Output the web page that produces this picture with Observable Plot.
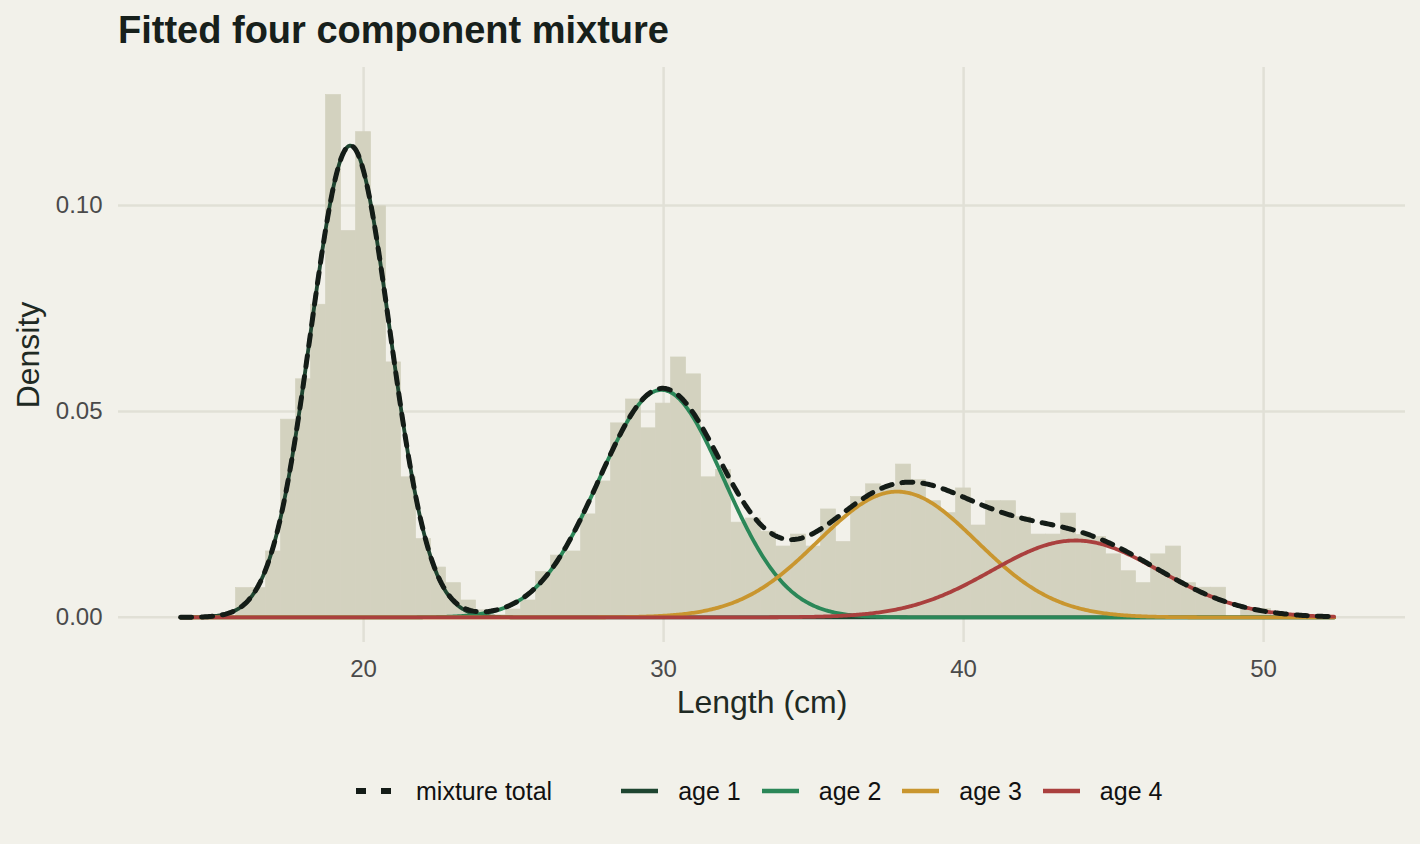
<!DOCTYPE html>
<html><head><meta charset="utf-8">
<script src="https://cdn.jsdelivr.net/npm/d3@7"></script>
<script src="https://cdn.jsdelivr.net/npm/@observablehq/plot@0.6"></script>
<style>
html,body{margin:0;padding:0;background:#f2f1ea;}
body{width:1420px;height:844px;position:relative;overflow:hidden;font-family:"Liberation Sans",Arial,sans-serif;}
#title{position:absolute;left:118px;top:11px;font-size:38px;font-weight:bold;line-height:38px;color:#17201b;white-space:nowrap;}
#chart{position:absolute;left:0;top:56px;}
#legend{position:absolute;left:356px;top:771px;height:40px;display:flex;align-items:center;font-size:25px;color:#111;white-space:nowrap;}
.item{display:flex;align-items:center;}
.item svg{display:block;}
</style></head><body>
<div id="title">Fitted four component mixture</div>
<div id="chart"></div>
<div id="legend"></div>
<script>
// Histogram: bin midpoints (cm) and density
const binMids = [16.0,16.5,17.0,17.5,18.0,18.5,19.0,19.5,20.0,20.5,21.0,21.5,22.0,22.5,23.0,23.5,24.0,24.5,25.0,25.5,26.0,26.5,27.0,27.5,28.0,28.5,29.0,29.5,30.0,30.5,31.0,31.5,32.0,32.5,33.0,33.5,34.0,34.5,35.0,35.5,36.0,36.5,37.0,37.5,38.0,38.5,39.0,39.5,40.0,40.5,41.0,41.5,42.0,42.5,43.0,43.5,44.0,44.5,45.0,45.5,46.0,46.5,47.0,47.5,48.0,48.5,49.0,49.5,50.0];
const binDensity = [0.0071,0.0071,0.016,0.048,0.0578,0.0759,0.1268,0.0938,0.1178,0.0998,0.0619,0.034,0.019,0.0121,0.0083,0.0041,0.0017,0.0005,0.0019,0.0041,0.011,0.015,0.016,0.025,0.033,0.0471,0.0529,0.0459,0.0519,0.0631,0.059,0.034,0.0358,0.023,0.024,0.0208,0.0172,0.0201,0.0172,0.0262,0.0183,0.0292,0.0323,0.0315,0.0371,0.0333,0.0282,0.0253,0.0313,0.0223,0.0282,0.0282,0.0243,0.0201,0.0201,0.0252,0.020,0.0195,0.0153,0.0112,0.0083,0.0153,0.0172,0.0083,0.0072,0.0072,0.0,0.002,0.002];
const binWidth = 0.5;

// Fitted mixture components
const ageLabels = ["age 1","age 2","age 3","age 4"];
const ageMeans = [19.56, 29.93, 37.79, 43.73];
const ageSds = [1.32, 2.08, 2.64, 2.8];
const ageWeights = [0.379, 0.288, 0.202, 0.131];
const ageColors = ["#1e4530", "#2b8758", "#c9962f", "#aa403e"];
const totalLabel = "mixture total";
const totalColor = "#141c17";
const xRange = [13.9, 52.35];

const xTicks = [20, 30, 40, 50];
const yTicks = [0, 0.05, 0.10];

const bins = binMids.map((m, i) => ({mid: m, density: binDensity[i]}));
const grid = d3.range(xRange[0], xRange[1] + 1e-9, 0.05);
const normal = (x, m, s) => Math.exp(-0.5 * ((x - m) / s) ** 2) / (s * Math.sqrt(2 * Math.PI));
const compRows = [];
ageLabels.forEach((lab, i) => grid.forEach(x => compRows.push({x, y: ageWeights[i] * normal(x, ageMeans[i], ageSds[i]), age: lab})));
const totalRows = grid.map(x => ({x, y: d3.sum(ageLabels, (_, i) => ageWeights[i] * normal(x, ageMeans[i], ageSds[i]))}));

const plot = Plot.plot({
  width: 1420, height: 674,
  marginLeft: 118, marginRight: 15, marginTop: 11, marginBottom: 88,
  style: {background: "transparent", fontFamily: "'Liberation Sans', Arial, sans-serif", fontSize: "24px", color: "#4a4a4a", overflow: "visible"},
  x: {domain: [11.83, 54.73]},
  y: {domain: [-0.0061, 0.1335]},
  color: {domain: ageLabels, range: ageColors},
  marks: [
    Plot.gridX({ticks: xTicks, stroke: "#e1e0d6", strokeOpacity: 1, strokeWidth: 2.5}),
    Plot.gridY({ticks: yTicks, stroke: "#e1e0d6", strokeOpacity: 1, strokeWidth: 2.5}),
    Plot.rect(bins, {x1: d => d.mid - binWidth / 2, x2: d => d.mid + binWidth / 2, y1: 0, y2: "density", fill: "#d3d2bf", stroke: "#d3d2bf", strokeWidth: 0.7}),
    Plot.line(compRows, {x: "x", y: "y", z: "age", stroke: "age", strokeWidth: 3.8}),
    Plot.line(totalRows, {x: "x", y: "y", stroke: totalColor, strokeWidth: 5, strokeDasharray: "11,10"}),
    Plot.axisX({ticks: xTicks, tickSize: 0, tickPadding: 17, label: null}),
    Plot.axisY({ticks: yTicks, tickSize: 0, tickPadding: 16, tickFormat: d3.format(".2f"), label: null}),
    Plot.text(["Length (cm)"], {text: d => d, frameAnchor: "bottom", textAnchor: "middle", dy: 70, fontSize: 32, fill: "#1f2a24"}),
    Plot.text(["Density"], {text: d => d, frameAnchor: "left", textAnchor: "middle", dx: -90, rotate: -90, fontSize: 32, fill: "#1f2a24"})
  ]
});
document.getElementById("chart").appendChild(plot);

// Legend
const legend = document.getElementById("legend");
const NS = "http://www.w3.org/2000/svg";
function addItem(label, color, dashed, gapBefore) {
  const item = document.createElement("div");
  item.className = "item";
  item.style.marginLeft = gapBefore + "px";
  const svg = document.createElementNS(NS, "svg");
  svg.setAttribute("width", 37); svg.setAttribute("height", 20);
  const ln = document.createElementNS(NS, "line");
  ln.setAttribute("x1", 0); ln.setAttribute("x2", 37);
  ln.setAttribute("y1", 10); ln.setAttribute("y2", 10);
  ln.setAttribute("stroke", color);
  ln.setAttribute("stroke-width", dashed ? 6 : 4.5);
  if (dashed) ln.setAttribute("stroke-dasharray", "10,15");
  svg.appendChild(ln);
  const span = document.createElement("span");
  span.textContent = label;
  span.style.marginLeft = (dashed ? 23 : 20) + "px";
  item.appendChild(svg); item.appendChild(span);
  legend.appendChild(item);
}
addItem(totalLabel, totalColor, true, 0);
ageLabels.forEach((lab, i) => addItem(lab, ageColors[i], false, i === 0 ? 69 : 21));
</script>
</body></html>
